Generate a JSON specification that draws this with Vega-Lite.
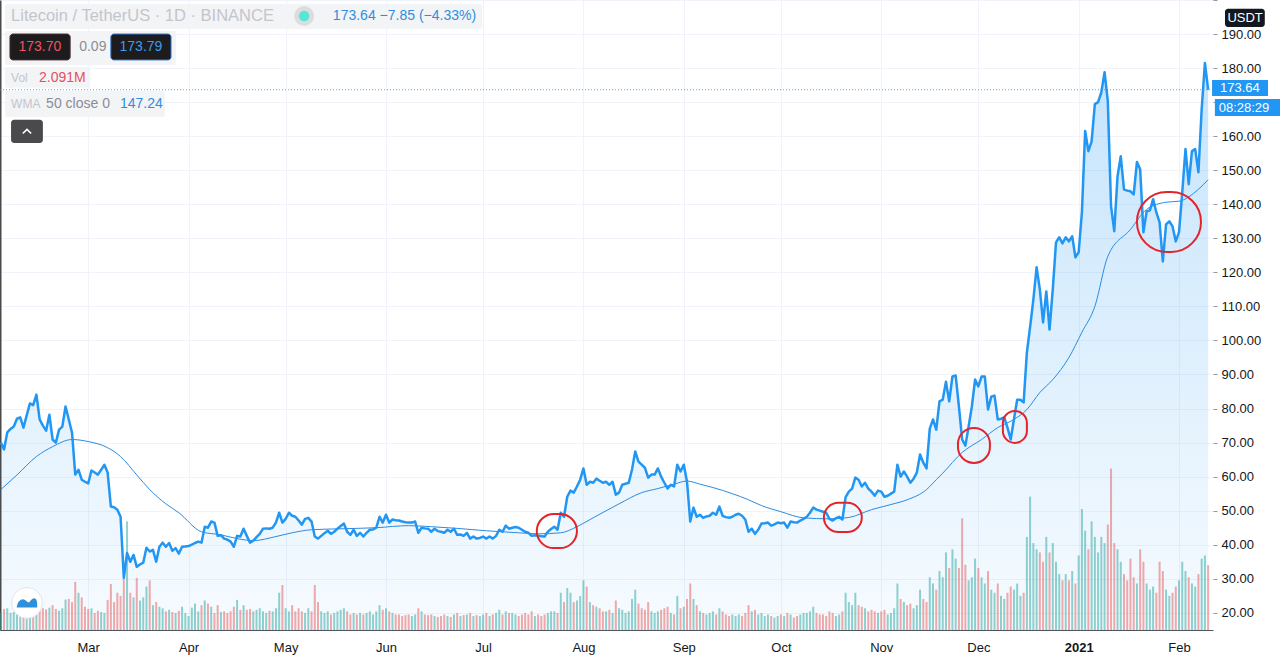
{
"$schema": "https://vega.github.io/schema/vega-lite/v6.json",
"width": 1213,
"height": 630,
"autosize": {"type": "none"},
"padding": {"left": 0, "top": 0, "right": 67, "bottom": 29},
"background": "#ffffff",
"config": {"view": {"stroke": null}, "font": "Liberation Sans", "axis": {"labelFont": "Liberation Sans"}, "scale": {"continuousPadding": 0}},
"datasets": {
"ltc": [
{"d":"2020-02-03","p":70.0,"v":0.55},{"d":"2020-02-04","p":68.0,"v":0.68},{"d":"2020-02-05","p":73.0,"v":0.70},{"d":"2020-02-06","p":74.0,"v":0.55},{"d":"2020-02-07","p":74.7,"v":0.58},{"d":"2020-02-08","p":77.0,"v":0.75},{"d":"2020-02-09","p":77.4,"v":0.60},{"d":"2020-02-10","p":74.4,"v":0.62},{"d":"2020-02-11","p":78.0,"v":0.70},{"d":"2020-02-12","p":81.5,"v":0.75},{"d":"2020-02-13","p":81.0,"v":0.65},{"d":"2020-02-14","p":84.1,"v":0.90},{"d":"2020-02-15","p":76.8,"v":0.85},{"d":"2020-02-16","p":75.0,"v":0.70},{"d":"2020-02-17","p":73.5,"v":0.66},{"d":"2020-02-18","p":78.2,"v":0.72},{"d":"2020-02-19","p":70.9,"v":0.80},{"d":"2020-02-20","p":70.0,"v":0.68},{"d":"2020-02-21","p":73.8,"v":0.62},{"d":"2020-02-22","p":74.7,"v":0.70},{"d":"2020-02-23","p":80.6,"v":0.98},{"d":"2020-02-24","p":76.8,"v":1.00},{"d":"2020-02-25","p":72.9,"v":0.90},{"d":"2020-02-26","p":60.6,"v":1.55},{"d":"2020-02-27","p":62.0,"v":1.20},{"d":"2020-02-28","p":59.1,"v":1.05},{"d":"2020-02-29","p":58.5,"v":0.75},
{"d":"2020-03-01","p":58.0,"v":0.68},{"d":"2020-03-02","p":61.8,"v":0.70},{"d":"2020-03-03","p":61.2,"v":0.55},{"d":"2020-03-04","p":60.6,"v":0.62},{"d":"2020-03-05","p":62.0,"v":0.58},{"d":"2020-03-06","p":63.5,"v":0.55},{"d":"2020-03-07","p":61.2,"v":0.97},{"d":"2020-03-08","p":51.2,"v":1.48},{"d":"2020-03-09","p":51.0,"v":0.90},{"d":"2020-03-10","p":50.3,"v":1.20},{"d":"2020-03-11","p":48.2,"v":1.10},{"d":"2020-03-12","p":30.3,"v":1.68},{"d":"2020-03-13","p":37.6,"v":3.50},{"d":"2020-03-14","p":35.0,"v":1.20},{"d":"2020-03-15","p":37.0,"v":1.05},{"d":"2020-03-16","p":33.5,"v":1.68},{"d":"2020-03-17","p":34.2,"v":0.95},{"d":"2020-03-18","p":34.7,"v":1.05},{"d":"2020-03-19","p":39.1,"v":1.40},{"d":"2020-03-20","p":38.0,"v":1.60},{"d":"2020-03-21","p":38.5,"v":0.80},{"d":"2020-03-22","p":35.0,"v":0.90},{"d":"2020-03-23","p":39.4,"v":0.75},{"d":"2020-03-24","p":40.6,"v":0.70},{"d":"2020-03-25","p":39.4,"v":0.60},{"d":"2020-03-26","p":40.5,"v":0.65},{"d":"2020-03-27","p":38.2,"v":0.58},{"d":"2020-03-28","p":39.0,"v":0.55},{"d":"2020-03-29","p":37.4,"v":0.62},{"d":"2020-03-30","p":39.4,"v":0.75},{"d":"2020-03-31","p":39.5,"v":0.55},
{"d":"2020-04-01","p":39.6,"v":0.45},{"d":"2020-04-02","p":40.0,"v":0.72},{"d":"2020-04-03","p":40.5,"v":0.85},{"d":"2020-04-04","p":40.9,"v":0.60},{"d":"2020-04-05","p":40.6,"v":0.80},{"d":"2020-04-06","p":45.3,"v":0.95},{"d":"2020-04-07","p":45.0,"v":0.85},{"d":"2020-04-08","p":46.8,"v":0.75},{"d":"2020-04-09","p":46.5,"v":0.55},{"d":"2020-04-10","p":42.6,"v":0.80},{"d":"2020-04-11","p":42.8,"v":0.58},{"d":"2020-04-12","p":41.8,"v":0.60},{"d":"2020-04-13","p":41.5,"v":0.55},{"d":"2020-04-14","p":40.9,"v":0.60},{"d":"2020-04-15","p":39.4,"v":0.75},{"d":"2020-04-16","p":42.6,"v":0.97},{"d":"2020-04-17","p":42.4,"v":0.65},{"d":"2020-04-18","p":44.7,"v":0.80},{"d":"2020-04-19","p":42.6,"v":0.65},{"d":"2020-04-20","p":40.6,"v":0.68},{"d":"2020-04-21","p":41.2,"v":0.60},{"d":"2020-04-22","p":42.2,"v":0.65},{"d":"2020-04-23","p":43.2,"v":0.70},{"d":"2020-04-24","p":44.7,"v":0.60},{"d":"2020-04-25","p":44.8,"v":0.55},{"d":"2020-04-26","p":44.7,"v":0.62},{"d":"2020-04-27","p":45.0,"v":0.60},{"d":"2020-04-28","p":46.5,"v":0.70},{"d":"2020-04-29","p":49.4,"v":1.20},{"d":"2020-04-30","p":46.5,"v":1.45},
{"d":"2020-05-01","p":47.6,"v":0.70},{"d":"2020-05-02","p":49.4,"v":0.60},{"d":"2020-05-03","p":48.5,"v":0.80},{"d":"2020-05-04","p":48.2,"v":0.60},{"d":"2020-05-05","p":47.1,"v":0.70},{"d":"2020-05-06","p":45.9,"v":0.60},{"d":"2020-05-07","p":47.6,"v":0.55},{"d":"2020-05-08","p":47.9,"v":0.70},{"d":"2020-05-09","p":46.8,"v":0.60},{"d":"2020-05-10","p":42.4,"v":1.45},{"d":"2020-05-11","p":41.8,"v":0.90},{"d":"2020-05-12","p":42.6,"v":0.60},{"d":"2020-05-13","p":43.4,"v":0.55},{"d":"2020-05-14","p":44.1,"v":0.60},{"d":"2020-05-15","p":43.2,"v":0.50},{"d":"2020-05-16","p":43.8,"v":0.55},{"d":"2020-05-17","p":44.7,"v":0.60},{"d":"2020-05-18","p":45.5,"v":0.65},{"d":"2020-05-19","p":46.2,"v":0.70},{"d":"2020-05-20","p":43.8,"v":0.60},{"d":"2020-05-21","p":42.9,"v":0.50},{"d":"2020-05-22","p":44.4,"v":0.55},{"d":"2020-05-23","p":42.6,"v":0.50},{"d":"2020-05-24","p":43.5,"v":0.55},{"d":"2020-05-25","p":42.4,"v":0.50},{"d":"2020-05-26","p":43.5,"v":0.55},{"d":"2020-05-27","p":44.4,"v":0.60},{"d":"2020-05-28","p":44.5,"v":0.50},{"d":"2020-05-29","p":45.0,"v":0.60},{"d":"2020-05-30","p":48.2,"v":0.80},{"d":"2020-05-31","p":46.5,"v":0.65},
{"d":"2020-06-01","p":48.8,"v":0.70},{"d":"2020-06-02","p":46.5,"v":0.60},{"d":"2020-06-03","p":47.4,"v":0.55},{"d":"2020-06-04","p":47.2,"v":0.50},{"d":"2020-06-05","p":47.1,"v":0.50},{"d":"2020-06-06","p":46.8,"v":0.45},{"d":"2020-06-07","p":46.6,"v":0.48},{"d":"2020-06-08","p":46.5,"v":0.50},{"d":"2020-06-09","p":46.5,"v":0.45},{"d":"2020-06-10","p":46.8,"v":0.50},{"d":"2020-06-11","p":43.5,"v":0.70},{"d":"2020-06-12","p":45.0,"v":0.60},{"d":"2020-06-13","p":44.8,"v":0.50},{"d":"2020-06-14","p":44.7,"v":0.48},{"d":"2020-06-15","p":43.8,"v":0.50},{"d":"2020-06-16","p":44.7,"v":0.45},{"d":"2020-06-17","p":44.0,"v":0.42},{"d":"2020-06-18","p":43.8,"v":0.45},{"d":"2020-06-19","p":43.5,"v":0.50},{"d":"2020-06-20","p":44.4,"v":0.45},{"d":"2020-06-21","p":43.8,"v":0.42},{"d":"2020-06-22","p":44.7,"v":0.50},{"d":"2020-06-23","p":42.9,"v":0.55},{"d":"2020-06-24","p":43.0,"v":0.45},{"d":"2020-06-25","p":42.6,"v":0.48},{"d":"2020-06-26","p":43.5,"v":0.50},{"d":"2020-06-27","p":41.8,"v":0.55},{"d":"2020-06-28","p":42.4,"v":0.45},{"d":"2020-06-29","p":41.8,"v":0.48},{"d":"2020-06-30","p":42.0,"v":0.45},
{"d":"2020-07-01","p":42.4,"v":0.50},{"d":"2020-07-02","p":41.8,"v":0.55},{"d":"2020-07-03","p":42.4,"v":0.45},{"d":"2020-07-04","p":41.8,"v":0.50},{"d":"2020-07-05","p":42.6,"v":0.55},{"d":"2020-07-06","p":44.4,"v":0.65},{"d":"2020-07-07","p":43.8,"v":0.50},{"d":"2020-07-08","p":45.6,"v":0.60},{"d":"2020-07-09","p":44.7,"v":0.55},{"d":"2020-07-10","p":45.0,"v":0.55},{"d":"2020-07-11","p":45.2,"v":0.50},{"d":"2020-07-12","p":45.0,"v":0.45},{"d":"2020-07-13","p":44.4,"v":0.50},{"d":"2020-07-14","p":43.8,"v":0.55},{"d":"2020-07-15","p":43.5,"v":0.50},{"d":"2020-07-16","p":42.6,"v":0.60},{"d":"2020-07-17","p":42.8,"v":0.45},{"d":"2020-07-18","p":42.6,"v":0.50},{"d":"2020-07-19","p":42.5,"v":0.45},{"d":"2020-07-20","p":42.4,"v":0.50},{"d":"2020-07-21","p":43.8,"v":0.55},{"d":"2020-07-22","p":44.6,"v":0.60},{"d":"2020-07-23","p":45.3,"v":0.60},{"d":"2020-07-24","p":44.4,"v":0.55},{"d":"2020-07-25","p":49.4,"v":1.20},{"d":"2020-07-26","p":48.2,"v":0.90},{"d":"2020-07-27","p":54.1,"v":1.35},{"d":"2020-07-28","p":55.9,"v":1.20},{"d":"2020-07-29","p":55.3,"v":0.90},{"d":"2020-07-30","p":57.1,"v":0.95},{"d":"2020-07-31","p":59.1,"v":1.10},
{"d":"2020-08-01","p":62.4,"v":1.60},{"d":"2020-08-02","p":57.6,"v":1.40},{"d":"2020-08-03","p":58.5,"v":0.90},{"d":"2020-08-04","p":58.2,"v":0.80},{"d":"2020-08-05","p":59.4,"v":0.75},{"d":"2020-08-06","p":58.8,"v":0.70},{"d":"2020-08-07","p":58.2,"v":0.60},{"d":"2020-08-08","p":58.5,"v":0.60},{"d":"2020-08-09","p":57.6,"v":0.65},{"d":"2020-08-10","p":58.5,"v":0.55},{"d":"2020-08-11","p":54.7,"v":0.95},{"d":"2020-08-12","p":55.3,"v":0.70},{"d":"2020-08-13","p":57.6,"v":0.65},{"d":"2020-08-14","p":57.9,"v":0.55},{"d":"2020-08-15","p":58.2,"v":0.60},{"d":"2020-08-16","p":62.0,"v":1.00},{"d":"2020-08-17","p":67.4,"v":1.30},{"d":"2020-08-18","p":64.4,"v":0.85},{"d":"2020-08-19","p":63.5,"v":0.70},{"d":"2020-08-20","p":62.6,"v":0.65},{"d":"2020-08-21","p":59.7,"v":0.90},{"d":"2020-08-22","p":60.6,"v":0.60},{"d":"2020-08-23","p":60.6,"v":0.55},{"d":"2020-08-24","p":62.4,"v":0.60},{"d":"2020-08-25","p":60.0,"v":0.65},{"d":"2020-08-26","p":58.2,"v":0.70},{"d":"2020-08-27","p":56.5,"v":0.75},{"d":"2020-08-28","p":57.6,"v":0.55},{"d":"2020-08-29","p":57.1,"v":0.50},{"d":"2020-08-30","p":63.5,"v":1.10},{"d":"2020-08-31","p":61.5,"v":0.70},
{"d":"2020-09-01","p":63.5,"v":0.75},{"d":"2020-09-02","p":58.5,"v":1.00},{"d":"2020-09-03","p":46.8,"v":1.50},{"d":"2020-09-04","p":50.9,"v":1.00},{"d":"2020-09-05","p":48.2,"v":0.80},{"d":"2020-09-06","p":48.8,"v":0.60},{"d":"2020-09-07","p":47.9,"v":0.55},{"d":"2020-09-08","p":48.3,"v":0.50},{"d":"2020-09-09","p":48.5,"v":0.55},{"d":"2020-09-10","p":49.4,"v":0.60},{"d":"2020-09-11","p":48.8,"v":0.50},{"d":"2020-09-12","p":51.2,"v":0.70},{"d":"2020-09-13","p":48.5,"v":0.60},{"d":"2020-09-14","p":48.1,"v":0.50},{"d":"2020-09-15","p":47.9,"v":0.45},{"d":"2020-09-16","p":48.2,"v":0.50},{"d":"2020-09-17","p":48.8,"v":0.45},{"d":"2020-09-18","p":49.1,"v":0.50},{"d":"2020-09-19","p":48.5,"v":0.45},{"d":"2020-09-20","p":47.4,"v":0.55},{"d":"2020-09-21","p":43.8,"v":0.80},{"d":"2020-09-22","p":44.7,"v":0.60},{"d":"2020-09-23","p":43.2,"v":0.65},{"d":"2020-09-24","p":44.4,"v":0.50},{"d":"2020-09-25","p":46.2,"v":0.55},{"d":"2020-09-26","p":46.3,"v":0.45},{"d":"2020-09-27","p":46.5,"v":0.50},{"d":"2020-09-28","p":45.6,"v":0.45},{"d":"2020-09-29","p":46.0,"v":0.40},{"d":"2020-09-30","p":46.5,"v":0.45},
{"d":"2020-10-01","p":46.3,"v":0.50},{"d":"2020-10-02","p":46.5,"v":0.45},{"d":"2020-10-03","p":45.0,"v":0.55},{"d":"2020-10-04","p":46.8,"v":0.50},{"d":"2020-10-05","p":46.6,"v":0.40},{"d":"2020-10-06","p":46.5,"v":0.45},{"d":"2020-10-07","p":47.1,"v":0.50},{"d":"2020-10-08","p":47.6,"v":0.55},{"d":"2020-10-09","p":48.2,"v":0.55},{"d":"2020-10-10","p":49.4,"v":0.60},{"d":"2020-10-11","p":50.9,"v":0.75},{"d":"2020-10-12","p":50.3,"v":0.55},{"d":"2020-10-13","p":50.0,"v":0.50},{"d":"2020-10-14","p":49.7,"v":0.50},{"d":"2020-10-15","p":49.4,"v":0.45},{"d":"2020-10-16","p":47.6,"v":0.60},{"d":"2020-10-17","p":47.1,"v":0.55},{"d":"2020-10-18","p":47.8,"v":0.45},{"d":"2020-10-19","p":48.2,"v":0.50},{"d":"2020-10-20","p":47.4,"v":0.60},{"d":"2020-10-21","p":54.0,"v":1.20},{"d":"2020-10-22","p":55.6,"v":0.90},{"d":"2020-10-23","p":56.5,"v":0.80},{"d":"2020-10-24","p":59.7,"v":1.20},{"d":"2020-10-25","p":59.1,"v":0.80},{"d":"2020-10-26","p":57.1,"v":0.75},{"d":"2020-10-27","p":58.2,"v":0.70},{"d":"2020-10-28","p":56.5,"v":0.60},{"d":"2020-10-29","p":55.6,"v":0.65},{"d":"2020-10-30","p":54.4,"v":0.60},{"d":"2020-10-31","p":55.9,"v":0.55},
{"d":"2020-11-01","p":55.6,"v":0.60},{"d":"2020-11-02","p":54.1,"v":0.65},{"d":"2020-11-03","p":54.4,"v":0.50},{"d":"2020-11-04","p":55.0,"v":0.55},{"d":"2020-11-05","p":55.6,"v":0.70},{"d":"2020-11-06","p":63.5,"v":1.50},{"d":"2020-11-07","p":60.0,"v":1.00},{"d":"2020-11-08","p":61.5,"v":0.90},{"d":"2020-11-09","p":60.0,"v":0.80},{"d":"2020-11-10","p":58.2,"v":0.85},{"d":"2020-11-11","p":59.4,"v":0.70},{"d":"2020-11-12","p":61.2,"v":0.80},{"d":"2020-11-13","p":66.5,"v":1.30},{"d":"2020-11-14","p":64.1,"v":1.00},{"d":"2020-11-15","p":62.4,"v":0.90},{"d":"2020-11-16","p":74.1,"v":1.70},{"d":"2020-11-17","p":76.8,"v":1.50},{"d":"2020-11-18","p":73.8,"v":1.30},{"d":"2020-11-19","p":82.1,"v":1.90},{"d":"2020-11-20","p":82.6,"v":1.70},{"d":"2020-11-21","p":87.9,"v":2.50},{"d":"2020-11-22","p":82.1,"v":2.00},{"d":"2020-11-23","p":89.4,"v":2.60},{"d":"2020-11-24","p":89.7,"v":2.30},{"d":"2020-11-25","p":80.6,"v":2.00},{"d":"2020-11-26","p":70.9,"v":3.60},{"d":"2020-11-27","p":69.1,"v":2.10},{"d":"2020-11-28","p":74.7,"v":1.60},{"d":"2020-11-29","p":80.6,"v":1.70},{"d":"2020-11-30","p":88.5,"v":2.30},
{"d":"2020-12-01","p":86.5,"v":2.00},{"d":"2020-12-02","p":89.4,"v":1.70},{"d":"2020-12-03","p":89.4,"v":1.50},{"d":"2020-12-04","p":79.7,"v":1.90},{"d":"2020-12-05","p":83.5,"v":1.30},{"d":"2020-12-06","p":83.8,"v":1.20},{"d":"2020-12-07","p":76.8,"v":1.50},{"d":"2020-12-08","p":77.0,"v":1.10},{"d":"2020-12-09","p":77.4,"v":1.00},{"d":"2020-12-10","p":74.4,"v":1.20},{"d":"2020-12-11","p":70.9,"v":1.40},{"d":"2020-12-12","p":76.8,"v":1.30},{"d":"2020-12-13","p":82.6,"v":1.50},{"d":"2020-12-14","p":82.6,"v":1.10},{"d":"2020-12-15","p":81.8,"v":1.20},{"d":"2020-12-16","p":96.5,"v":3.00},{"d":"2020-12-17","p":104.0,"v":4.30},{"d":"2020-12-18","p":112.0,"v":2.80},{"d":"2020-12-19","p":121.5,"v":2.60},{"d":"2020-12-20","p":115.0,"v":2.50},{"d":"2020-12-21","p":105.3,"v":2.20},{"d":"2020-12-22","p":114.4,"v":3.00},{"d":"2020-12-23","p":103.2,"v":2.50},{"d":"2020-12-24","p":115.0,"v":2.80},{"d":"2020-12-25","p":128.8,"v":2.20},{"d":"2020-12-26","p":130.3,"v":1.80},{"d":"2020-12-27","p":128.5,"v":1.60},{"d":"2020-12-28","p":130.3,"v":1.80},{"d":"2020-12-29","p":129.1,"v":1.60},{"d":"2020-12-30","p":130.6,"v":1.90},{"d":"2020-12-31","p":124.4,"v":1.50},
{"d":"2021-01-01","p":125.9,"v":2.40},{"d":"2021-01-02","p":137.6,"v":3.90},{"d":"2021-01-03","p":161.5,"v":3.20},{"d":"2021-01-04","p":155.6,"v":2.60},{"d":"2021-01-05","p":158.5,"v":3.50},{"d":"2021-01-06","p":169.4,"v":3.00},{"d":"2021-01-07","p":170.0,"v":2.50},{"d":"2021-01-08","p":172.9,"v":3.00},{"d":"2021-01-09","p":178.8,"v":2.80},{"d":"2021-01-10","p":170.3,"v":3.40},{"d":"2021-01-11","p":139.4,"v":5.20},{"d":"2021-01-12","p":132.1,"v":2.80},{"d":"2021-01-13","p":148.2,"v":2.60},{"d":"2021-01-14","p":154.1,"v":2.20},{"d":"2021-01-15","p":144.4,"v":1.80},{"d":"2021-01-16","p":144.0,"v":1.60},{"d":"2021-01-17","p":143.8,"v":2.30},{"d":"2021-01-18","p":142.9,"v":1.70},{"d":"2021-01-19","p":152.4,"v":1.50},{"d":"2021-01-20","p":150.3,"v":2.60},{"d":"2021-01-21","p":131.8,"v":2.20},{"d":"2021-01-22","p":137.9,"v":1.50},{"d":"2021-01-23","p":138.2,"v":1.30},{"d":"2021-01-24","p":141.5,"v":1.40},{"d":"2021-01-25","p":137.6,"v":1.20},{"d":"2021-01-26","p":134.7,"v":2.20},{"d":"2021-01-27","p":123.2,"v":1.90},{"d":"2021-01-28","p":134.1,"v":1.30},{"d":"2021-01-29","p":135.0,"v":1.10},{"d":"2021-01-30","p":133.5,"v":1.20},{"d":"2021-01-31","p":129.1,"v":1.40},
{"d":"2021-02-01","p":131.8,"v":1.60},{"d":"2021-02-02","p":143.5,"v":2.20},{"d":"2021-02-03","p":156.2,"v":1.90},{"d":"2021-02-04","p":145.9,"v":1.70},{"d":"2021-02-05","p":155.6,"v":1.50},{"d":"2021-02-06","p":156.2,"v":1.40},{"d":"2021-02-07","p":149.4,"v":1.80},{"d":"2021-02-08","p":167.9,"v":2.30},{"d":"2021-02-09","p":181.49,"v":2.40},{"d":"2021-02-10","p":173.64,"v":2.09}
],
"wma": [
{"d":"2020-02-03","p":56.2},{"d":"2020-02-08","p":60.5},{"d":"2020-02-14","p":65.9},{"d":"2020-02-19","p":68.8},{"d":"2020-02-25","p":70.9},{"d":"2020-03-01","p":70.3},{"d":"2020-03-07","p":68.5},{"d":"2020-03-11","p":65.9},{"d":"2020-03-16","p":60.5},{"d":"2020-03-20","p":56.2},{"d":"2020-03-25","p":52.0},{"d":"2020-03-29","p":49.4},{"d":"2020-04-05","p":43.8},{"d":"2020-04-11","p":42.9},{"d":"2020-04-16","p":41.8},{"d":"2020-04-21","p":41.2},{"d":"2020-04-28","p":42.4},{"d":"2020-05-03","p":43.5},{"d":"2020-05-09","p":44.4},{"d":"2020-05-19","p":44.7},{"d":"2020-05-29","p":45.0},{"d":"2020-06-08","p":45.6},{"d":"2020-06-15","p":45.3},{"d":"2020-06-23","p":44.8},{"d":"2020-07-02","p":44.1},{"d":"2020-07-12","p":43.5},{"d":"2020-07-18","p":43.2},{"d":"2020-07-25","p":43.5},{"d":"2020-07-30","p":45.3},{"d":"2020-08-04","p":47.9},{"d":"2020-08-12","p":52.0},{"d":"2020-08-19","p":55.3},{"d":"2020-08-24","p":56.5},{"d":"2020-08-29","p":57.8},{"d":"2020-09-02","p":58.7},{"d":"2020-09-06","p":57.8},{"d":"2020-09-10","p":56.8},{"d":"2020-09-16","p":55.0},{"d":"2020-09-21","p":53.2},{"d":"2020-09-25","p":51.5},{"d":"2020-10-01","p":49.7},{"d":"2020-10-08","p":47.9},{"d":"2020-10-16","p":47.6},{"d":"2020-10-22","p":48.0},{"d":"2020-10-29","p":50.3},{"d":"2020-11-04","p":51.8},{"d":"2020-11-09","p":53.2},{"d":"2020-11-15","p":56.2},{"d":"2020-11-18","p":59.1},{"d":"2020-11-20","p":61.0},{"d":"2020-11-26","p":67.1},{"d":"2020-12-02","p":70.9},{"d":"2020-12-07","p":74.4},{"d":"2020-12-12","p":76.8},{"d":"2020-12-16","p":79.7},{"d":"2020-12-20","p":84.7},{"d":"2020-12-24","p":88.5},{"d":"2020-12-29","p":95.0},{"d":"2021-01-02","p":102.4},{"d":"2021-01-06","p":110.0},{"d":"2021-01-10","p":124.7},{"d":"2021-01-17","p":132.6},{"d":"2021-01-22","p":138.5},{"d":"2021-01-28","p":140.6},{"d":"2021-02-01","p":140.9},{"d":"2021-02-07","p":144.4},{"d":"2021-02-10","p":147.24}
],
"circles": [
{"d":"2020-07-17T14:00:00Z","d2":"2020-07-30T00:00:00Z","p":39.0,"p2":49.0},
{"d":"2020-10-14T07:00:00Z","d2":"2020-10-26T00:00:00Z","p":43.75,"p2":52.3},
{"d":"2020-11-24T17:00:00Z","d2":"2020-12-04T14:00:00Z","p":64.0,"p2":74.3},
{"d":"2020-12-08T14:00:00Z","d2":"2020-12-16T00:00:00Z","p":69.9,"p2":79.3},
{"d":"2021-01-19T00:00:00Z","d2":"2021-02-07T19:00:00Z","p":126.0,"p2":143.6}
],
"hbg": [
{"d":"2020-02-04T07:00:00Z","d2":"2020-06-30T17:00:00Z","p":191.5,"p2":198.8},
{"d":"2020-02-04T07:00:00Z","d2":"2020-03-28T02:00:00Z","p":180.9,"p2":190.9},
{"d":"2020-02-04T07:00:00Z","d2":"2020-03-01T14:00:00Z","p":174.2,"p2":180.3},
{"d":"2020-02-04T07:00:00Z","d2":"2020-03-24T17:00:00Z","p":165.6,"p2":173.3}
],
"quote": [
{"d":"2020-02-05T20:00:00Z","d2":"2020-02-24T10:00:00Z","p":182.4,"p2":190.0,"m":"2020-02-15T02:00:00Z","pm":186.2,"k":"sell","t":"173.70"},
{"d":"2020-03-08T00:00:00Z","d2":"2020-03-26T14:00:00Z","p":182.4,"p2":190.0,"m":"2020-03-17T07:00:00Z","pm":186.2,"k":"buy","t":"173.79"}
]
},
"resolve": {"scale": {"y": "independent"}},
"layer": [
{
"data": {"name": "ltc"},
"transform": [{"window": [{"op": "lag", "field": "p", "as": "prev"}], "sort": [{"field": "d", "order": "ascending"}]}],
"mark": {"type": "bar", "width": 2},
"encoding": {
"x": {"field": "d", "type": "temporal",
"scale": {"type": "utc", "padding": 0, "domain": [{"year": 2020, "month": 2, "date": 2, "hours": 18, "utc": true}, {"year": 2021, "month": 2, "date": 11, "hours": 12, "utc": true}]},
"axis": {"title": null,
"values": [{"year":2020,"month":3,"date":1,"utc":true},{"year":2020,"month":4,"date":1,"utc":true},{"year":2020,"month":5,"date":1,"utc":true},{"year":2020,"month":6,"date":1,"utc":true},{"year":2020,"month":7,"date":1,"utc":true},{"year":2020,"month":8,"date":1,"utc":true},{"year":2020,"month":9,"date":1,"utc":true},{"year":2020,"month":10,"date":1,"utc":true},{"year":2020,"month":11,"date":1,"utc":true},{"year":2020,"month":12,"date":1,"utc":true},{"year":2021,"month":1,"date":1,"utc":true},{"year":2021,"month":2,"date":1,"utc":true}],
"labelExpr": "utcmonth(datum.value) === 0 ? utcFormat(datum.value, '%Y') : utcFormat(datum.value, '%b')",
"labelFontWeight": {"condition": {"test": "utcmonth(datum.value) === 0", "value": "bold"}, "value": "normal"},
"labelFontSize": 13, "labelColor": "#131722", "ticks": false, "tickSize": 0, "labelPadding": 11,
"domainColor": "#50535e", "domainWidth": 1, "grid": true, "gridColor": "#f0f3fa", "labelOverlap": false}},
"y": {"field": "v", "type": "quantitative", "scale": {"domain": [0, 20.3], "nice": false, "zero": true},
"axis": {"orient": "left", "labels": false, "ticks": false, "grid": false, "title": null, "domainColor": "#4a4a4a", "domainWidth": 2}},
"color": {"condition": {"test": "datum.prev == null || datum.p >= datum.prev", "value": "rgba(38,166,154,0.5)"}, "value": "rgba(239,83,80,0.5)"}
}
},
{
"layer": [
{
"data": {"name": "ltc"},
"mark": {"type": "area", "color": {"x1": 0, "y1": 1, "x2": 0, "y2": 0, "gradient": "linear", "stops": [{"offset": 0, "color": "rgba(33,150,243,0.04)"}, {"offset": 1, "color": "rgba(33,150,243,0.26)"}]}},
"encoding": {
"x": {"field": "d", "type": "temporal"},
"y": {"field": "p", "type": "quantitative", "scale": {"domain": [14.95, 200], "nice": false, "zero": false},
"axis": {"orient": "right", "title": null, "values": [20,30,40,50,60,70,80,90,100,110,120,130,140,150,160,170,180,190,200], "tickCount": 19, "format": ".2f",
"labelExpr": "(datum.value === 170 || datum.value === 200) ? '' : datum.label",
"labelFontSize": 13, "labelColor": "#131722", "tickSize": 4, "tickColor": "#9598a1", "labelPadding": 4, "domain": false,
"grid": true, "gridColor": "#f0f3fa", "labelOverlap": false, "labelSeparation": 0}},
"y2": {"datum": 14.95}
}
},
{
"data": {"name": "wma"},
"mark": {"type": "line", "color": "#2a8be0", "strokeWidth": 1, "interpolate": "monotone"},
"encoding": {"x": {"field": "d", "type": "temporal"}, "y": {"field": "p", "type": "quantitative"}}
},
{
"data": {"name": "ltc"},
"mark": {"type": "line", "color": "#2196f3", "strokeWidth": 2.5, "strokeJoin": "round"},
"encoding": {"x": {"field": "d", "type": "temporal"}, "y": {"field": "p", "type": "quantitative"}}
},
{
"data": {"values": [{"p": 173.64}]},
"mark": {"type": "rule", "color": "#2196f3", "strokeWidth": 1, "strokeDash": [1, 2], "opacity": 0.8},
"encoding": {"y": {"field": "p", "type": "quantitative"}}
},
{
"data": {"name": "circles"},
"mark": {"type": "rect", "fillOpacity": 0, "stroke": "#e3242b", "strokeWidth": 2, "cornerRadius": 200},
"encoding": {"x": {"field": "d", "type": "temporal"}, "x2": {"field": "d2"}, "y": {"field": "p", "type": "quantitative"}, "y2": {"field": "p2"}}
},
{
"data": {"name": "hbg"},
"mark": {"type": "rect", "fill": "#f2f3f5", "opacity": 0.9, "cornerRadius": 2},
"encoding": {"x": {"field": "d", "type": "temporal"}, "x2": {"field": "d2"}, "y": {"field": "p", "type": "quantitative"}, "y2": {"field": "p2"}}
},
{
"data": {"name": "quote"},
"mark": {"type": "rect", "fill": "#1c1c1f", "strokeWidth": 1, "cornerRadius": 3},
"encoding": {"x": {"field": "d", "type": "temporal"}, "x2": {"field": "d2"}, "y": {"field": "p", "type": "quantitative"}, "y2": {"field": "p2"},
"stroke": {"field": "k", "type": "nominal", "scale": {"domain": ["sell", "buy"], "range": ["#4a2a2c", "#2f6fc8"]}, "legend": null}}
},
{
"data": {"name": "quote"},
"mark": {"type": "text", "fontSize": 14, "align": "center", "baseline": "middle"},
"encoding": {"x": {"field": "m", "type": "temporal"}, "y": {"field": "pm", "type": "quantitative"}, "text": {"field": "t"},
"color": {"field": "k", "type": "nominal", "scale": {"domain": ["sell", "buy"], "range": ["#f0525d", "#3f9be8"]}, "legend": null}}
},
{
"data": {"values": [{"d": "2020-02-06T04:00:00Z", "p": 195.3, "t": "Litecoin / TetherUS · 1D · BINANCE"}]},
"mark": {"type": "text", "fontSize": 16.5, "align": "left", "baseline": "middle", "color": "#c3c5cc"},
"encoding": {"x": {"field": "d", "type": "temporal"}, "y": {"field": "p", "type": "quantitative"}, "text": {"field": "t"}}
},
{
"data": {"values": [{"d": "2020-05-06T17:00:00Z", "p": 195.3}]},
"mark": {"type": "point", "shape": "circle", "filled": true, "size": 400, "color": "#dcdde0", "opacity": 1},
"encoding": {"x": {"field": "d", "type": "temporal"}, "y": {"field": "p", "type": "quantitative"}}
},
{
"data": {"values": [{"d": "2020-05-06T17:00:00Z", "p": 195.3}]},
"mark": {"type": "point", "shape": "circle", "filled": true, "size": 110, "color": "#57e6d3", "opacity": 1},
"encoding": {"x": {"field": "d", "type": "temporal"}, "y": {"field": "p", "type": "quantitative"}}
},
{
"data": {"values": [{"d": "2020-05-15T14:00:00Z", "p": 195.3, "t": "173.64 −7.85 (−4.33%)"}, {"d": "2020-03-10T19:00:00Z", "p": 169.5, "t": "147.24"}]},
"mark": {"type": "text", "fontSize": 14, "align": "left", "baseline": "middle", "color": "#2f8ee0"},
"encoding": {"x": {"field": "d", "type": "temporal"}, "y": {"field": "p", "type": "quantitative"}, "text": {"field": "t"}}
},
{
"data": {"values": [{"d": "2020-02-06T04:00:00Z", "p": 177.1, "t": "Vol"}, {"d": "2020-02-06T04:00:00Z", "p": 169.5, "t": "WMA"}]},
"mark": {"type": "text", "fontSize": 12, "align": "left", "baseline": "middle", "color": "#c3c5cc"},
"encoding": {"x": {"field": "d", "type": "temporal"}, "y": {"field": "p", "type": "quantitative"}, "text": {"field": "t"}}
},
{
"data": {"values": [{"d": "2020-02-17T00:00:00Z", "p": 169.5, "t": "50 close 0"}, {"d": "2020-02-27T05:00:00Z", "p": 186.2, "t": "0.09"}]},
"mark": {"type": "text", "fontSize": 14, "align": "left", "baseline": "middle", "color": "#8a8d96"},
"encoding": {"x": {"field": "d", "type": "temporal"}, "y": {"field": "p", "type": "quantitative"}, "text": {"field": "t"}}
},
{
"data": {"values": [{"d": "2020-02-14T19:00:00Z", "p": 177.1, "t": "2.091M"}]},
"mark": {"type": "text", "fontSize": 14, "align": "left", "baseline": "middle", "color": "#e6505c"},
"encoding": {"x": {"field": "d", "type": "temporal"}, "y": {"field": "p", "type": "quantitative"}, "text": {"field": "t"}}
},
{
"data": {"values": [{"d": "2020-02-06T04:00:00Z", "d2": "2020-02-16T00:00:00Z", "p": 158.0, "p2": 164.8}]},
"mark": {"type": "rect", "fill": "#4a4a4c", "cornerRadius": 3},
"encoding": {"x": {"field": "d", "type": "temporal"}, "x2": {"field": "d2"}, "y": {"field": "p", "type": "quantitative"}, "y2": {"field": "p2"}}
},
{
"data": {"values": [{"d": "2020-02-11T02:00:00Z", "p": 161.4}]},
"mark": {"type": "point", "shape": "M -0.7 0.35 L 0 -0.35 L 0.7 0.35", "filled": false, "size": 144, "stroke": "#ffffff", "strokeWidth": 1.6, "opacity": 1},
"encoding": {"x": {"field": "d", "type": "temporal"}, "y": {"field": "p", "type": "quantitative"}}
},
{
"data": {"values": [{"d": "2020-02-11T02:00:00Z", "p": 22.9}]},
"mark": {"type": "point", "shape": "circle", "filled": true, "size": 950, "fill": "#ffffff", "stroke": "#e3e5ea", "strokeWidth": 1, "opacity": 1},
"encoding": {"x": {"field": "d", "type": "temporal"}, "y": {"field": "p", "type": "quantitative"}}
},
{
"data": {"values": [{"d": "2020-02-11T02:00:00Z", "p": 22.9}]},
"mark": {"type": "point", "shape": "M -1 0.45 C -0.95 0 -0.7 -0.35 -0.4 -0.35 C -0.15 -0.35 0 -0.05 0.15 -0.05 C 0.3 -0.05 0.45 -0.45 0.7 -0.45 C 0.9 -0.45 1 -0.15 1 0.1 L 1 0.45 Z", "filled": true, "size": 420, "color": "#2e8fdc", "opacity": 1},
"encoding": {"x": {"field": "d", "type": "temporal"}, "y": {"field": "p", "type": "quantitative"}}
},
{
"data": {"values": [{"d": "2021-02-15T05:00:00Z", "d2": "2021-02-27T12:00:00Z", "p": 192.1, "p2": 197.4}]},
"mark": {"type": "rect", "fill": "#131722", "cornerRadius": 3},
"encoding": {"x": {"field": "d", "type": "temporal"}, "x2": {"field": "d2"}, "y": {"field": "p", "type": "quantitative"}, "y2": {"field": "p2"}}
},
{
"data": {"values": [{"d": "2021-02-11T05:00:00Z", "d2": "2021-02-28T12:00:00Z", "p": 171.8, "p2": 176.5}, {"d": "2021-02-12T02:00:00Z", "d2": "2021-03-04T12:00:00Z", "p": 165.9, "p2": 170.9}]},
"mark": {"type": "rect", "fill": "#2196f3"},
"encoding": {"x": {"field": "d", "type": "temporal"}, "x2": {"field": "d2"}, "y": {"field": "p", "type": "quantitative"}, "y2": {"field": "p2"}}
},
{
"data": {"values": [{"d": "2021-02-21T10:00:00Z", "p": 194.75, "t": "USDT"}, {"d": "2021-02-19T19:00:00Z", "p": 174.15, "t": "173.64"}, {"d": "2021-02-21T02:00:00Z", "p": 168.4, "t": "08:28:29"}]},
"mark": {"type": "text", "fontSize": 13, "align": "center", "baseline": "middle", "color": "#ffffff"},
"encoding": {"x": {"field": "d", "type": "temporal"}, "y": {"field": "p", "type": "quantitative"}, "text": {"field": "t"}}
}
]
}
]
}
